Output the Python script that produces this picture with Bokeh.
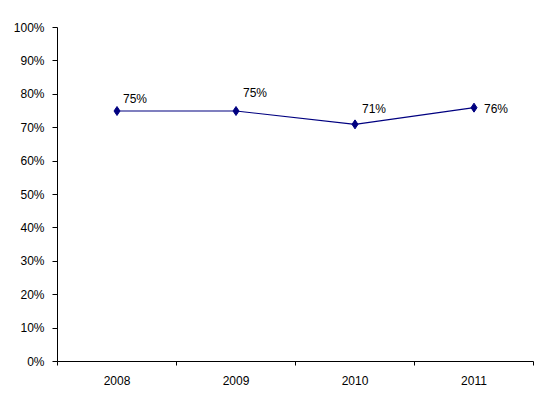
from bokeh.plotting import figure
from bokeh.models import Range1d, FixedTicker, NumeralTickFormatter, ColumnDataSource
from bokeh.core.properties import value
from bokeh.embed import file_html
from bokeh.resources import INLINE

years = ["2008", "2009", "2010", "2011"]
rates = [0.75, 0.75, 0.71, 0.76]
rate_labels = ["75%", "75%", "71%", "76%"]
y_ticks = [0.0, 0.1, 0.2, 0.3, 0.4, 0.5, 0.6, 0.7, 0.8, 0.9, 1.0]

label_dx = [6, 7, 7, 10]
label_dy = [-12, -18, -15, 1]

xs = [i + 0.5 for i in range(len(years))]
src = ColumnDataSource(dict(x=xs, y=rates, lab=rate_labels, dx=label_dx, dy=label_dy))

FONT = "Liberation Sans"
NAVY = "#000080"

p = figure(width=534, height=397, output_backend="svg", toolbar_location=None,
           x_range=Range1d(0, len(years)), y_range=Range1d(0, 1),
           min_border_left=57, min_border_right=1, min_border_top=27, min_border_bottom=36)
p.outline_line_color = None
p.xgrid.visible = False
p.ygrid.visible = False
p.background_fill_color = "white"
p.border_fill_color = "white"

p.line("x", "y", source=src, line_color=NAVY, line_width=1.2)
p.scatter("x", "y", source=src, marker="diamond", size=9, fill_color=NAVY, line_color=NAVY)
p.text("x", "y", text="lab", source=src, x_offset="dx", y_offset="dy",
       text_font=value(FONT), text_font_size="12px", text_align="left",
       text_baseline="middle", text_color="black")

xa = p.xaxis[0]
xa.ticker = FixedTicker(ticks=xs, minor_ticks=list(range(len(years) + 1)))
xa.major_label_overrides = {x: y for x, y in zip(xs, years)}
xa.major_tick_out = 0
xa.major_tick_in = 0
xa.minor_tick_out = 4
xa.minor_tick_in = 0
xa.major_label_standoff = 10
xa.axis_line_color = "black"
xa.minor_tick_line_color = "black"
xa.major_label_text_font = FONT
xa.major_label_text_font_size = "12px"
xa.major_label_text_color = "black"

ya = p.yaxis[0]
ya.ticker = FixedTicker(ticks=y_ticks)
ya.formatter = NumeralTickFormatter(format="0%")
ya.major_tick_out = 5
ya.major_tick_in = 0
ya.minor_tick_out = 0
ya.minor_tick_in = 0
ya.major_label_standoff = 8
ya.axis_line_color = "black"
ya.major_tick_line_color = "black"
ya.major_label_text_font = FONT
ya.major_label_text_font_size = "12px"
ya.major_label_text_color = "black"

open("out.html", "w").write(file_html(p, INLINE))
